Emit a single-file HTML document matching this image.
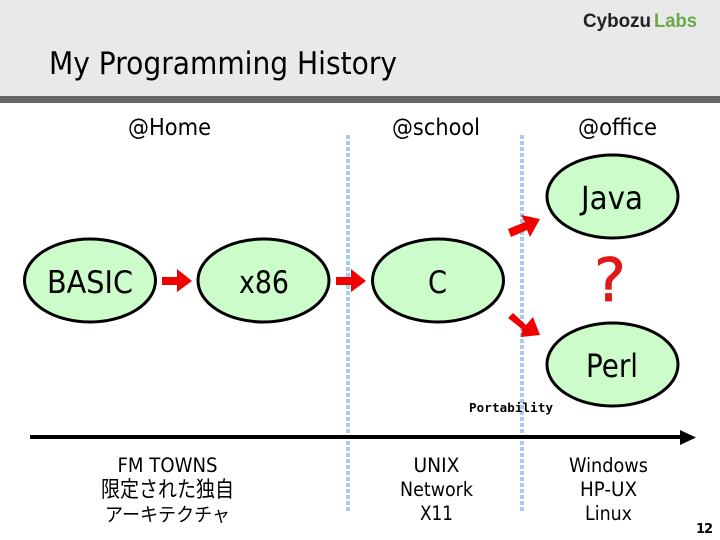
<!DOCTYPE html>
<html><head><meta charset="utf-8"><title>My Programming History</title>
<style>
html,body{margin:0;padding:0;background:#fff;width:720px;height:540px;overflow:hidden}
svg{display:block}
text{font-family:"DejaVu Sans","Noto Sans CJK JP",sans-serif;fill:#000}
</style></head><body>
<svg width="720" height="540" viewBox="0 0 720 540" xmlns="http://www.w3.org/2000/svg">
<rect width="720" height="96" fill="#e9e9e9"/>
<rect y="96" width="720" height="7" fill="#666"/>
<text x="583" y="27" font-size="19" font-weight="bold" textLength="68" lengthAdjust="spacingAndGlyphs" style="font-family:'Liberation Sans',sans-serif;fill:#222">Cybozu</text>
<text x="654" y="27" font-size="19" font-weight="bold" textLength="43" lengthAdjust="spacingAndGlyphs" style="font-family:'Liberation Sans',sans-serif;fill:#6aa84a">Labs</text>
<text x="49" y="74" font-size="31" textLength="348" lengthAdjust="spacingAndGlyphs">My Programming History</text>
<text x="128" y="135" font-size="23" textLength="83" lengthAdjust="spacingAndGlyphs">@Home</text>
<text x="392" y="135" font-size="23" textLength="88" lengthAdjust="spacingAndGlyphs">@school</text>
<text x="578" y="135" font-size="23" textLength="79" lengthAdjust="spacingAndGlyphs">@office</text>

<line x1="348" y1="135" x2="348" y2="511" stroke="#a9cbf0" stroke-width="4" stroke-dasharray="4 2"/>
<line x1="522" y1="135" x2="522" y2="511" stroke="#a9cbf0" stroke-width="4" stroke-dasharray="4 2"/>

<g fill="#ccfcca" stroke="#000" stroke-width="3">
<ellipse cx="90" cy="280.5" rx="65.5" ry="41.5"/>
<ellipse cx="263.5" cy="280.5" rx="65.5" ry="41.5"/>
<ellipse cx="438" cy="280.5" rx="65.5" ry="41.5"/>
<ellipse cx="612.5" cy="196.5" rx="65.5" ry="41.5"/>
<ellipse cx="612.5" cy="364.5" rx="65.5" ry="41.5"/>
</g>

<g fill="#f00000">
<polygon points="162,277 177,277 177,269 192,281 177,292 177,285 162,285"/>
<polygon points="336,277 351,277 351,269 366,281 351,292 351,285 336,285"/>
<polygon points="508,229 525,222 521,215 540,219 530,237 527,230 511,237"/>
<polygon points="513,313 526,325 533,317 540,335 521,337 522,329 508,318"/>
</g>

<text x="47" y="293" font-size="31" textLength="86" lengthAdjust="spacingAndGlyphs">BASIC</text>
<text x="239" y="293" font-size="31" textLength="50" lengthAdjust="spacingAndGlyphs">x86</text>
<text x="428" y="293" font-size="31" textLength="19" lengthAdjust="spacingAndGlyphs">C</text>
<text x="581" y="209" font-size="32" textLength="62" lengthAdjust="spacingAndGlyphs">Java</text>
<text x="586" y="377" font-size="32" textLength="52" lengthAdjust="spacingAndGlyphs">Perl</text>
<text x="594" y="301" font-size="60" textLength="32" lengthAdjust="spacingAndGlyphs" style="fill:#e01818;stroke:#e01818;stroke-width:0.8">?</text>

<text x="469" y="412" font-size="12.5" font-weight="bold" textLength="84" style="font-family:'DejaVu Sans Mono',monospace">Portability</text>

<line x1="30" y1="437" x2="684" y2="437" stroke="#000" stroke-width="4"/>
<polygon points="680,430 696,437.5 680,445" fill="#000"/>

<g font-size="19.5" text-anchor="middle">
<text x="167.5" y="472" textLength="100" lengthAdjust="spacingAndGlyphs">FM TOWNS</text>
<text x="167.5" y="497" font-size="22" textLength="133" lengthAdjust="spacingAndGlyphs">限定された独自</text>
<text x="167.5" y="521" font-size="19" textLength="125" lengthAdjust="spacingAndGlyphs">アーキテクチャ</text>
<text x="436.5" y="472" textLength="46" lengthAdjust="spacingAndGlyphs">UNIX</text>
<text x="436.5" y="496" textLength="73" lengthAdjust="spacingAndGlyphs">Network</text>
<text x="436.5" y="520" textLength="33" lengthAdjust="spacingAndGlyphs">X11</text>
<text x="608.5" y="472" textLength="79" lengthAdjust="spacingAndGlyphs">Windows</text>
<text x="608.5" y="496" textLength="57" lengthAdjust="spacingAndGlyphs">HP-UX</text>
<text x="608.5" y="520" textLength="47" lengthAdjust="spacingAndGlyphs">Linux</text>
</g>
<text x="696" y="533" font-size="13" font-weight="bold" textLength="17" fill="#222">12</text>
</svg>
</body></html>
